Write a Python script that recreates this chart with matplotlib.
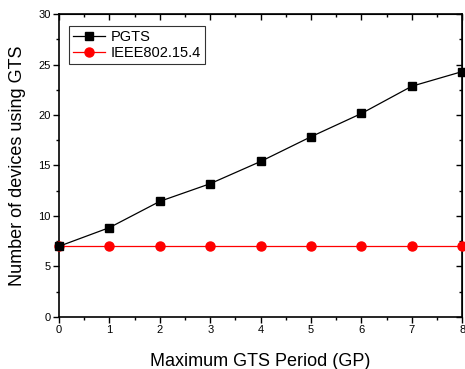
import matplotlib.pyplot as plt
import numpy as np

plt.rcParams['font.family'] = ['Liberation Sans', 'DejaVu Sans']

# data
gp = [0, 1, 2, 3, 4, 5, 6, 7, 8]
pgts = [7.0, 8.85, 11.45, 13.2, 15.4, 17.85, 20.15, 22.85, 24.3]
ieee = [7, 7, 7, 7, 7, 7, 7, 7, 7]

fig = plt.figure(figsize=(4.65, 3.69), dpi=100)
ax = fig.add_axes([0.127, 0.141, 0.867, 0.821])

ax.plot(gp, pgts, color='black', lw=0.9, marker='s', markersize=5.5,
        label='PGTS', clip_on=False, zorder=4)
ax.plot(gp, ieee, color='red', lw=0.9, marker='o', markersize=6.5,
        label='IEEE802.15.4', clip_on=False, zorder=3)

ax.set_xlim(0, 8)
ax.set_ylim(0, 30)
ax.set_xticks(np.arange(0, 9, 1))
ax.set_xticks(np.arange(0, 8.5, 0.5), minor=True)
ax.set_yticks(np.arange(0, 31, 5))
ax.set_yticks(np.arange(0, 30.1, 2.5), minor=True)

# bottom / left ticks point outward
ax.tick_params(which='both', direction='out', labelsize=8, width=1, pad=2)
ax.tick_params(which='major', length=4)
ax.tick_params(which='minor', length=2.5)

# top / right ticks point inward
for side in ('top', 'right'):
    if side == 'top':
        sec = ax.secondary_xaxis('top')
        sec.set_xticks(np.arange(0, 9, 1))
        sec.set_xticks(np.arange(0, 8.5, 0.5), minor=True)
    else:
        sec = ax.secondary_yaxis('right')
        sec.set_yticks(np.arange(0, 31, 5))
        sec.set_yticks(np.arange(0, 30.1, 2.5), minor=True)
    sec.tick_params(which='both', direction='in', labeltop=False, labelright=False, width=1)
    sec.tick_params(which='major', length=4)
    sec.tick_params(which='minor', length=2.5)

for sp in ax.spines.values():
    sp.set_linewidth(1.2)

ax.set_xlabel('Maximum GTS Period (GP)', fontsize=13, labelpad=13)
ax.set_ylabel('Number of devices using GTS', fontsize=13, labelpad=9)

leg = ax.legend(loc='upper left', fontsize=10.5, frameon=True, fancybox=False,
                edgecolor='black', handlelength=2.2, borderpad=0.25,
                labelspacing=0.15, handletextpad=0.4, borderaxespad=0,
                bbox_to_anchor=(0.025, 0.96))
leg.get_frame().set_linewidth(0.8)

plt.savefig('out.png', dpi=100, facecolor='white')
plt.close()
